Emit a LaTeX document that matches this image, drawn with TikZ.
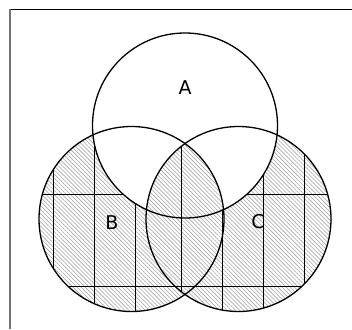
\documentclass[tikz,border=0pt]{standalone}
\usepackage{fontspec}
\setmainfont{DejaVu Sans}
\usetikzlibrary{patterns.meta}
\begin{document}
\begin{tikzpicture}[x=1pt,y=-1pt,
  circ/.style={draw=black, line width=1.3pt},
  gridline/.style={draw=black, line width=0.9pt},
  hatch/.style={pattern={Lines[angle=-45, distance=2.9pt, line width=0.6pt]}, pattern color=black!35},
  lbl/.style={font=\fontsize{19}{19}\selectfont, inner sep=0pt}]
\useasboundingbox (0,0) rectangle (352,329);
\fill[white] (0,0) rectangle (352,329);
\coordinate (ca) at (185,125.5);
\coordinate (cb) at (131.5,219);
\coordinate (cc) at (238.5,219);
% hatch B u C
\fill[hatch] (cb) circle[radius=92.5] (cc) circle[radius=92.5];
% grid clipped to B u C
\begin{scope}
  \clip (cb) circle[radius=92.5] (cc) circle[radius=92.5];
  \foreach \gx in {53.3,94.3,135.7,222.3,263.3,304.3}
    \draw[gridline] (\gx,100) -- (\gx,329);
  \foreach \gy in {194,286}
    \draw[gridline] (30,\gy) -- (340,\gy);
\end{scope}
% white out A
\fill[white] (ca) circle[radius=92.5];
% hatch A n B n C
\begin{scope}
  \clip (ca) circle[radius=92.5];
  \clip (cb) circle[radius=92.5];
  \fill[hatch] (cc) circle[radius=92.5];
\end{scope}
% line within B n C
\begin{scope}
  \clip (cb) circle[radius=92.5];
  \clip (cc) circle[radius=92.5];
  \draw[gridline] (181.7,100) -- (181.7,329);
\end{scope}
% outlines
\node[circ, circle, minimum size=185pt, inner sep=0pt] (A) at (ca) {};
\node[circ, circle, minimum size=185pt, inner sep=0pt] (B) at (cb) {};
\node[circ, circle, minimum size=185pt, inner sep=0pt] (C) at (cc) {};
\node[lbl] (la) at (185,88) {A};
\node[lbl] (lb) at (112,222.5) {B};
\node[lbl] (lc) at (258,222) {C};
% frame
\coordinate (f0) at (9.5,9.5);
\coordinate (f1) at (352,9.5);
\coordinate (f2) at (10,329);
\draw[black, line width=1pt] (f0) -- (f1);
\draw[black!55, line width=2pt] (10,9) -- (f2);
\end{tikzpicture}
\end{document}
